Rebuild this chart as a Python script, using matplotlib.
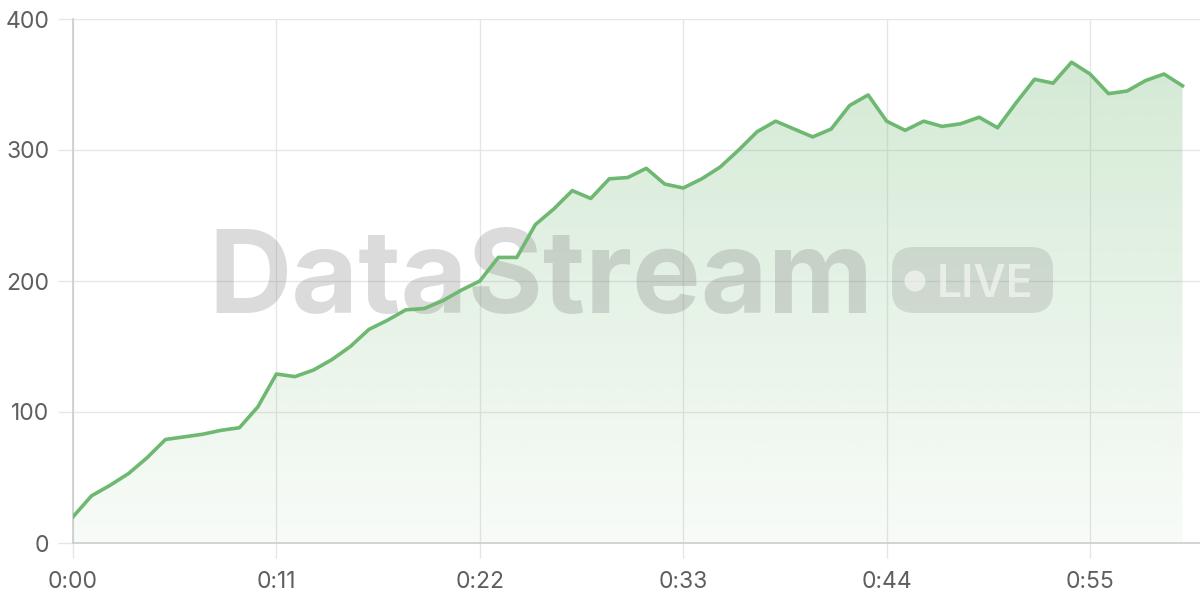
import numpy as np
import matplotlib

matplotlib.use("Agg")
from matplotlib import pyplot as plt
from matplotlib.patches import FancyBboxPatch, Circle
from matplotlib.ticker import FuncFormatter

# stream value sampled once a second
seconds = list(range(61))
values = [
    20, 36, 44, 53, 65, 79, 81, 83, 86, 88,
    104, 129, 127, 132, 140, 150, 163, 170, 178, 179,
    185, 193, 200, 218, 218, 243, 255, 269, 263, 278,
    279, 286, 274, 271, 278, 287, 300, 314, 322, 316,
    310, 316, 334, 342, 322, 315, 322, 318, 320, 325,
    317, 336, 354, 351, 367, 358, 343, 345, 353, 358,
    349,
]
x_ticks = [0, 11, 22, 33, 44, 55]
y_ticks = [0, 100, 200, 300, 400]
watermark = "DataStream"
badge = "LIVE"

line_color = "#6fb872"
grid_color = "#e6e6e6"

plt.rcParams["font.family"] = ["Inter", "DejaVu Sans"]

fig = plt.figure(figsize=(12, 6), dpi=100)
ax = fig.add_axes([73 / 1200, 57 / 600, 1128 / 1200, 524 / 600])

ax.set_xlim(0, 61)
ax.set_ylim(0, 400)
ax.set_xticks(x_ticks)
ax.set_yticks(y_ticks)
ax.xaxis.set_major_formatter(FuncFormatter(lambda v, p: "%d:%02d" % (v // 60, v % 60)))

ax.set_axisbelow(True)
ax.grid(True, color=grid_color, linewidth=1)
for side in ("top", "right"):
    ax.spines[side].set_visible(False)
for side in ("left", "bottom"):
    ax.spines[side].set_color("#cccccc")
    ax.spines[side].set_linewidth(1.2)
ax.tick_params(axis="both", length=11, width=1, color=grid_color,
               labelsize=16.5, labelcolor="#5f5f5f")
ax.tick_params(axis="x", pad=9)
ax.tick_params(axis="y", pad=6)

# gradient fill under the line
rgb = np.array(matplotlib.colors.to_rgb(line_color))
n = 256
grad = np.zeros((n, 1, 4))
grad[:, 0, :3] = rgb
grad[:, 0, 3] = np.linspace(0.05, 0.32, n)
im = ax.imshow(grad, extent=[0, 61, 0, 400], origin="lower", aspect="auto",
               interpolation="bilinear", zorder=1)
poly = ax.fill_between(seconds, values, 0, color="none", linewidth=0)
im.set_clip_path(poly.get_paths()[0], transform=ax.transData)

# watermark
ax.text(2.08, 6 - 3.13, watermark, transform=fig.dpi_scale_trans,
        fontsize=83, fontweight="bold", color="#808080", alpha=0.28,
        ha="left", va="baseline", zorder=2.5)
pill = FancyBboxPatch((8.92, 6 - 3.13), 1.61, 0.66,
                      boxstyle="round,pad=0,rounding_size=0.22",
                      transform=fig.dpi_scale_trans, facecolor="#808080",
                      alpha=0.22, edgecolor="none", zorder=2.5, clip_on=False)
ax.add_patch(pill)
ax.add_patch(Circle((9.15, 6 - 2.81), 0.105, transform=fig.dpi_scale_trans,
                    facecolor="white", alpha=0.55, edgecolor="none",
                    zorder=2.6, clip_on=False))
ax.text(9.37, 6 - 2.97, badge, transform=fig.dpi_scale_trans,
        fontsize=32, fontweight="semibold", color="white", alpha=0.55,
        ha="left", va="baseline", zorder=2.6)

ax.plot(seconds, values, color=line_color, linewidth=2.6, zorder=3,
        solid_joinstyle="round")

fig.savefig("out.png", dpi=100)
